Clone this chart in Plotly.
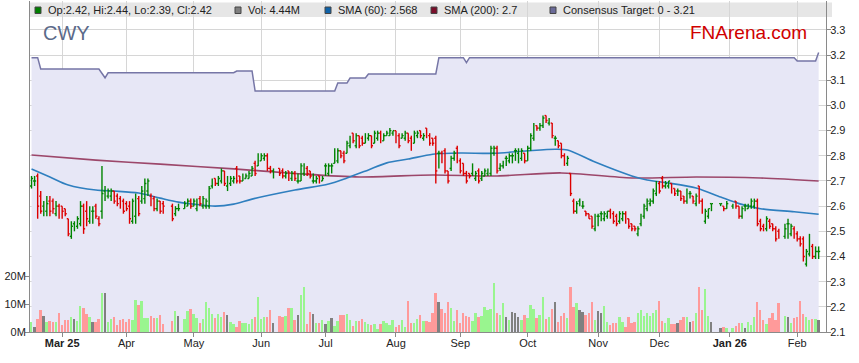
import pandas as pd
import plotly.graph_objects as go

# ---------------- data ----------------
HOLIDAYS = ["2025-04-18", "2025-04-21", "2025-04-25", "2025-06-09",
            "2025-12-25", "2025-12-26", "2026-01-01", "2026-01-26"]
trade_days = [d for d in pd.bdate_range("2025-02-17", "2026-02-11")
              if d.strftime("%Y-%m-%d") not in HOLIDAYS]

opens = [
    2.68, 2.70, 2.72, 2.64, 2.60, 2.58, 2.62, 2.62, 2.57, 2.60,
    2.60, 2.59, 2.55, 2.48, 2.53, 2.52, 2.53, 2.60, 2.58, 2.54, 2.58, 2.60, 2.55, 2.58, 2.66, 2.64, 2.64, 2.66, 2.64, 2.63, 2.62,
    2.61, 2.60, 2.54, 2.56, 2.63, 2.62, 2.63, 2.66, 2.64, 2.63, 2.59, 2.62, 2.61, 2.60, 2.57, 2.59, 2.59, 2.60, 2.62,
    2.60, 2.59, 2.63, 2.60, 2.60, 2.60, 2.68, 2.71, 2.69, 2.70, 2.74, 2.68, 2.69, 2.70, 2.75, 2.72, 2.70, 2.71, 2.71, 2.72, 2.77, 2.76,
    2.78, 2.79, 2.80, 2.75, 2.74, 2.75, 2.74, 2.72, 2.74, 2.71, 2.73, 2.70, 2.70, 2.73, 2.75, 2.74, 2.70, 2.70, 2.72, 2.70,
    2.76, 2.73, 2.76, 2.77, 2.78, 2.82, 2.81, 2.81, 2.84, 2.89, 2.84, 2.88, 2.87, 2.85, 2.87, 2.88, 2.85, 2.87, 2.89, 2.86, 2.88, 2.88, 2.89,
    2.90, 2.88, 2.87, 2.87, 2.89, 2.87, 2.85, 2.88, 2.90, 2.87, 2.91, 2.88, 2.87, 2.87, 2.81, 2.81, 2.82, 2.74, 2.75, 2.79, 2.83,
    2.78, 2.77, 2.73, 2.73, 2.73, 2.71, 2.74, 2.71, 2.72, 2.73, 2.73, 2.81, 2.83, 2.75, 2.76, 2.79, 2.78, 2.80, 2.82, 2.81, 2.79, 2.81,
    2.78, 2.83, 2.87, 2.92, 2.91, 2.92, 2.96, 2.93, 2.93, 2.87, 2.86, 2.85, 2.80, 2.77, 2.73, 2.62, 2.58, 2.62, 2.60, 2.58, 2.57, 2.56, 2.51,
    2.56, 2.57, 2.55, 2.56, 2.58, 2.57, 2.56, 2.54, 2.55, 2.57, 2.55, 2.53, 2.52, 2.49, 2.53, 2.56, 2.59, 2.61, 2.62, 2.65,
    2.69, 2.71, 2.68, 2.68, 2.69, 2.67, 2.66, 2.66, 2.64, 2.62, 2.65, 2.64, 2.61, 2.68, 2.62, 2.54, 2.56, 2.61, 2.61, 2.60, 2.59,
    2.60, 2.62, 2.60, 2.56, 2.60, 2.59, 2.60, 2.60, 2.62, 2.54, 2.52, 2.51, 2.54, 2.53, 2.51, 2.50, 2.48, 2.53, 2.49, 2.51,
    2.49, 2.47, 2.47, 2.37, 2.41, 2.44, 2.40, 2.42,
]
highs = [
    2.72, 2.72, 2.73, 2.66, 2.62, 2.64, 2.64, 2.63, 2.62, 2.61,
    2.60, 2.59, 2.55, 2.54, 2.54, 2.56, 2.62, 2.61, 2.62, 2.60, 2.60, 2.61, 2.56, 2.76, 2.68, 2.67, 2.67, 2.66, 2.65, 2.64, 2.63,
    2.62, 2.62, 2.63, 2.65, 2.64, 2.68, 2.71, 2.71, 2.65, 2.64, 2.63, 2.62, 2.62, 2.61, 2.60, 2.61, 2.62, 2.63, 2.63,
    2.63, 2.63, 2.64, 2.64, 2.63, 2.68, 2.71, 2.71, 2.72, 2.75, 2.74, 2.72, 2.72, 2.72, 2.76, 2.72, 2.73, 2.73, 2.74, 2.76, 2.78, 2.81,
    2.81, 2.81, 2.81, 2.76, 2.75, 2.75, 2.75, 2.74, 2.74, 2.74, 2.74, 2.73, 2.77, 2.77, 2.76, 2.74, 2.73, 2.72, 2.72, 2.72,
    2.77, 2.77, 2.77, 2.83, 2.83, 2.82, 2.82, 2.86, 2.88, 2.89, 2.89, 2.88, 2.88, 2.89, 2.89, 2.88, 2.90, 2.90, 2.90, 2.89, 2.90, 2.91, 2.90,
    2.90, 2.89, 2.89, 2.90, 2.89, 2.88, 2.90, 2.90, 2.90, 2.89, 2.91, 2.89, 2.87, 2.88, 2.82, 2.82, 2.83, 2.74, 2.80, 2.82, 2.84,
    2.79, 2.77, 2.74, 2.73, 2.77, 2.74, 2.75, 2.74, 2.75, 2.75, 2.84, 2.84, 2.84, 2.77, 2.78, 2.80, 2.81, 2.81, 2.83, 2.83, 2.83, 2.81,
    2.84, 2.89, 2.93, 2.92, 2.93, 2.96, 2.96, 2.95, 2.93, 2.88, 2.86, 2.85, 2.81, 2.80, 2.73, 2.63, 2.62, 2.63, 2.62, 2.58, 2.57, 2.56, 2.57,
    2.57, 2.58, 2.58, 2.58, 2.59, 2.58, 2.57, 2.58, 2.58, 2.58, 2.55, 2.53, 2.52, 2.52, 2.57, 2.61, 2.63, 2.63, 2.67, 2.70,
    2.70, 2.72, 2.70, 2.70, 2.69, 2.67, 2.67, 2.66, 2.64, 2.67, 2.66, 2.64, 2.65, 2.68, 2.63, 2.59, 2.59, 2.61, 2.61, 2.60, 2.62,
    2.61, 2.62, 2.60, 2.60, 2.61, 2.61, 2.63, 2.63, 2.63, 2.55, 2.53, 2.56, 2.55, 2.53, 2.52, 2.51, 2.53, 2.55, 2.53, 2.52,
    2.50, 2.48, 2.48, 2.43, 2.49, 2.45, 2.44, 2.44,
]
lows = [
    2.67, 2.68, 2.55, 2.57, 2.56, 2.56, 2.56, 2.57, 2.56, 2.55,
    2.55, 2.56, 2.48, 2.47, 2.50, 2.51, 2.52, 2.49, 2.52, 2.53, 2.53, 2.55, 2.52, 2.55, 2.62, 2.63, 2.62, 2.61, 2.60, 2.59, 2.57,
    2.58, 2.53, 2.53, 2.53, 2.56, 2.61, 2.61, 2.64, 2.60, 2.58, 2.58, 2.57, 2.57, 2.54, 2.56, 2.58, 2.59, 2.60, 2.59,
    2.60, 2.58, 2.60, 2.59, 2.59, 2.59, 2.67, 2.68, 2.68, 2.69, 2.68, 2.66, 2.68, 2.69, 2.69, 2.69, 2.70, 2.71, 2.71, 2.72, 2.72, 2.76,
    2.78, 2.78, 2.74, 2.73, 2.71, 2.72, 2.71, 2.71, 2.70, 2.70, 2.70, 2.69, 2.70, 2.72, 2.72, 2.71, 2.69, 2.69, 2.69, 2.70,
    2.72, 2.72, 2.73, 2.77, 2.77, 2.79, 2.77, 2.81, 2.83, 2.85, 2.83, 2.83, 2.84, 2.85, 2.86, 2.83, 2.85, 2.86, 2.85, 2.86, 2.88, 2.88, 2.88,
    2.85, 2.83, 2.87, 2.86, 2.85, 2.82, 2.85, 2.87, 2.87, 2.86, 2.87, 2.84, 2.84, 2.69, 2.75, 2.77, 2.73, 2.69, 2.74, 2.78, 2.77,
    2.73, 2.72, 2.69, 2.71, 2.72, 2.70, 2.69, 2.70, 2.72, 2.72, 2.72, 2.80, 2.73, 2.74, 2.75, 2.76, 2.77, 2.77, 2.78, 2.77, 2.78, 2.77,
    2.78, 2.82, 2.86, 2.90, 2.90, 2.91, 2.93, 2.92, 2.87, 2.84, 2.83, 2.79, 2.76, 2.76, 2.64, 2.57, 2.57, 2.60, 2.59, 2.56, 2.55, 2.51, 2.50,
    2.52, 2.54, 2.54, 2.55, 2.55, 2.53, 2.52, 2.53, 2.54, 2.53, 2.51, 2.50, 2.50, 2.48, 2.52, 2.55, 2.58, 2.60, 2.61, 2.64,
    2.65, 2.67, 2.67, 2.67, 2.65, 2.64, 2.64, 2.62, 2.61, 2.61, 2.63, 2.61, 2.60, 2.61, 2.57, 2.53, 2.55, 2.58, 2.60, 2.58, 2.59,
    2.59, 2.59, 2.55, 2.55, 2.58, 2.59, 2.59, 2.59, 2.52, 2.50, 2.50, 2.50, 2.51, 2.50, 2.46, 2.47, 2.47, 2.47, 2.48, 2.47,
    2.46, 2.44, 2.38, 2.36, 2.40, 2.39, 2.39, 2.39,
]
closes = [
    2.71, 2.70, 2.60, 2.58, 2.60, 2.61, 2.58, 2.59, 2.60, 2.56,
    2.58, 2.57, 2.49, 2.52, 2.53, 2.55, 2.60, 2.51, 2.55, 2.59, 2.58, 2.56, 2.53, 2.65, 2.66, 2.66, 2.66, 2.62, 2.61, 2.60, 2.58,
    2.59, 2.55, 2.62, 2.63, 2.57, 2.66, 2.69, 2.70, 2.61, 2.59, 2.62, 2.58, 2.60, 2.55, 2.59, 2.59, 2.61, 2.62, 2.60,
    2.62, 2.62, 2.61, 2.63, 2.62, 2.67, 2.70, 2.69, 2.71, 2.74, 2.69, 2.68, 2.71, 2.71, 2.70, 2.70, 2.72, 2.72, 2.73, 2.75, 2.73, 2.80,
    2.80, 2.80, 2.75, 2.74, 2.74, 2.73, 2.72, 2.73, 2.71, 2.73, 2.71, 2.70, 2.76, 2.75, 2.73, 2.72, 2.70, 2.71, 2.70, 2.71,
    2.76, 2.76, 2.76, 2.82, 2.82, 2.80, 2.78, 2.85, 2.87, 2.86, 2.88, 2.84, 2.85, 2.88, 2.88, 2.84, 2.89, 2.89, 2.86, 2.88, 2.89, 2.90, 2.90,
    2.86, 2.84, 2.88, 2.89, 2.86, 2.83, 2.89, 2.89, 2.88, 2.88, 2.88, 2.85, 2.85, 2.74, 2.81, 2.78, 2.74, 2.70, 2.79, 2.81, 2.78,
    2.74, 2.73, 2.70, 2.72, 2.76, 2.73, 2.70, 2.73, 2.74, 2.74, 2.83, 2.83, 2.74, 2.76, 2.77, 2.79, 2.80, 2.80, 2.82, 2.81, 2.82, 2.78,
    2.83, 2.88, 2.92, 2.91, 2.92, 2.95, 2.94, 2.94, 2.88, 2.87, 2.84, 2.80, 2.77, 2.79, 2.65, 2.58, 2.61, 2.62, 2.60, 2.57, 2.55, 2.52, 2.55,
    2.56, 2.57, 2.57, 2.58, 2.56, 2.54, 2.53, 2.57, 2.57, 2.54, 2.52, 2.51, 2.51, 2.51, 2.56, 2.60, 2.62, 2.62, 2.66, 2.69,
    2.66, 2.68, 2.69, 2.70, 2.66, 2.65, 2.66, 2.63, 2.62, 2.66, 2.65, 2.62, 2.64, 2.62, 2.58, 2.58, 2.59, 2.61, 2.61, 2.59, 2.61,
    2.61, 2.60, 2.56, 2.59, 2.60, 2.60, 2.62, 2.62, 2.53, 2.51, 2.51, 2.55, 2.52, 2.51, 2.47, 2.48, 2.51, 2.53, 2.52, 2.48,
    2.47, 2.45, 2.40, 2.42, 2.45, 2.40, 2.42, 2.42,
]
volumes_m = [
    3.7, 1.9, 4.6, 7.9, 5.8, 3.6, 4.0, 3.7, 3.7, 6.9,
    2.5, 4.3, 4.3, 5.5, 4.6, 4.0, 9.3, 8.7, 6.4, 5.5, 3.7, 3.5, 4.6, 14.0, 13.8, 3.7, 4.5, 5.5, 2.5, 4.3, 4.6,
    3.7, 4.6, 4.3, 11.4, 9.6, 11.1, 5.0, 4.9, 5.8, 5.0, 5.0, 6.1, 2.7, 3.9, 7.4, 5.8, 4.6, 7.6, 8.3,
    6.6, 5.1, 3.3, 4.7, 10.8, 8.4, 6.6, 5.1, 6.6, 5.5, 7.3, 6.2, 3.6, 2.9, 1.9, 3.9, 3.1, 3.3, 2.7, 4.5, 5.3, 12.5,
    4.7, 5.2, 5.5, 8.0, 3.2, 5.8, 5.3, 5.7, 8.7, 8.7, 4.3, 6.1, 13.3, 16.0, 3.0, 7.3, 6.5, 3.3, 3.3, 4.4,
    3.0, 4.1, 5.1, 2.3, 4.0, 6.1, 5.9, 6.5, 4.2, 2.3, 4.1, 4.1, 4.7, 3.7, 2.9, 2.6, 2.9, 1.2, 2.7, 4.1, 3.3, 2.6, 4.4,
    1.8, 2.6, 4.4, 1.8, 11.2, 3.1, 3.3, 4.7, 6.2, 3.8, 4.1, 3.7, 6.9, 14.0, 10.8, 8.2, 6.7, 10.8, 8.7, 4.0, 7.9,
    3.3, 6.7, 5.7, 5.5, 3.9, 6.9, 5.5, 5.8, 9.0, 7.9, 8.2, 17.6, 6.9, 6.1, 10.5, 5.2, 4.3, 7.3, 6.7, 5.2, 4.3, 6.1,
    5.1, 9.6, 8.2, 5.1, 6.2, 12.6, 4.8, 5.5, 8.3, 10.8, 3.7, 5.8, 6.9, 5.1, 16.2, 9.0, 10.2, 7.9, 7.3, 6.0, 6.9, 10.8, 4.3,
    7.6, 6.7, 9.3, 3.6, 2.5, 3.2, 3.3, 5.5, 3.6, 1.9, 5.5, 3.3, 3.7, 6.9, 7.9, 5.7, 6.9, 5.7, 6.7, 7.9,
    11.2, 4.0, 3.1, 4.9, 2.9, 2.9, 3.1, 4.3, 5.5, 5.5, 3.7, 3.9, 6.7, 16.2, 7.9, 15.4, 5.8, 3.7, 1.3, 1.9, 1.3,
    1.5, 2.1, 3.3, 3.1, 1.5, 3.7, 2.5, 5.5, 10.8, 7.9, 4.3, 3.0, 5.0, 6.7, 4.3, 10.5, 5.7, 5.5, 3.1, 5.1,
    5.2, 11.2, 6.4, 5.5, 4.3, 4.5, 4.5, 4.44,
]

sma60_dates = ["2025-02-17", "2025-02-25", "2025-03-05", "2025-03-18", "2025-03-26", "2025-04-07",
               "2025-04-16", "2025-04-24", "2025-05-01", "2025-05-12", "2025-05-20", "2025-05-28",
               "2025-06-17", "2025-07-02", "2025-07-10", "2025-07-21", "2025-07-29", "2025-08-07",
               "2025-08-19", "2025-09-01", "2025-09-16", "2025-10-01", "2025-10-14", "2025-10-20",
               "2025-10-31", "2025-11-18", "2025-11-25", "2025-12-04", "2025-12-17", "2025-12-29",
               "2026-01-06", "2026-01-15", "2026-01-30", "2026-02-11"]
sma60_vals = [2.748, 2.716, 2.684, 2.664, 2.660, 2.652, 2.632, 2.616, 2.608, 2.600, 2.608, 2.628,
              2.664, 2.688, 2.712, 2.744, 2.772, 2.787, 2.806, 2.811, 2.810, 2.820, 2.826, 2.823,
              2.775, 2.720, 2.704, 2.692, 2.672, 2.636, 2.610, 2.590, 2.578, 2.568]

sma200_dates = ["2025-02-17", "2025-03-18", "2025-04-16", "2025-05-20", "2025-06-17", "2025-07-16",
                "2025-08-19", "2025-09-17", "2025-10-16", "2025-11-18", "2025-12-17", "2026-01-15",
                "2026-02-11"]
sma200_vals = [2.803, 2.783, 2.767, 2.748, 2.730, 2.716, 2.724, 2.720, 2.732, 2.712, 2.716, 2.712, 2.700]

target_dates = ["2025-02-17", "2025-02-19", "2025-02-20", "2025-03-19", "2025-03-21", "2025-03-24",
                "2025-05-20", "2025-05-21", "2025-05-28", "2025-05-29", "2025-07-04", "2025-07-07",
                "2025-07-10", "2025-07-11", "2025-07-18", "2025-07-21", "2025-08-20", "2025-08-21",
                "2025-09-02", "2025-09-03", "2025-09-04", "2026-01-30", "2026-02-02", "2026-02-10",
                "2026-02-11"]
target_vals = [3.19, 3.19, 3.145, 3.145, 3.11, 3.13, 3.13, 3.137, 3.137, 3.057, 3.057, 3.089,
               3.089, 3.109, 3.109, 3.125, 3.125, 3.19, 3.19, 3.17, 3.19, 3.19, 3.177, 3.177, 3.21]

month_ticks = ["2025-03-03", "2025-04-01", "2025-05-01", "2025-06-02", "2025-07-01", "2025-08-01",
               "2025-09-01", "2025-10-01", "2025-11-03", "2025-12-01", "2026-01-01", "2026-02-02"]
month_labels = ["<b>Mar 25</b>", "Apr", "May", "Jun", "Jul", "Aug", "Sep", "Oct", "Nov", "Dec",
                "<b>Jan 26</b>", "Feb"]
price_ticks = [2.1, 2.2, 2.3, 2.4, 2.5, 2.6, 2.7, 2.8, 2.9, 3.0, 3.1, 3.2, 3.3]
vol_ticks = [0, 10, 20]
vol_tick_labels = ["0M", "10M", "20M"]

# ---------------- helpers ----------------
noon = pd.Timedelta(hours=12)
half_day = pd.Timedelta(hours=12)


def at_noon(ds):
    return [pd.Timestamp(d) + noon for d in ds]


x_days = [d + noon for d in trade_days]
assert len(x_days) == len(opens) == len(highs) == len(lows) == len(closes) == len(volumes_m)

W, H = 859, 363
L, R, T, B = 30, 826, 1, 332
PX_PER_PRICE = 251.7          # pixels per 1.0 of price
PX_PER_MVOL = 2.8             # pixels per 1M shares


def fx(x):
    return (x - L) / (R - L)


def fy(y):
    return (B - y) / (B - T)


def bar_path(indices):
    xs, ys = [], []
    for i in indices:
        d = x_days[i]
        xs += [d, d, None, d - half_day, d, None, d, d + half_day, None]
        ys += [lows[i], highs[i], None, opens[i], opens[i], None, closes[i], closes[i], None]
    return xs, ys


up_idx = [i for i in range(len(closes)) if round(closes[i] - opens[i], 4) >= 0]
dn_idx = [i for i in range(len(closes)) if round(closes[i] - opens[i], 4) < 0]

vol_colors = []
for o, c in zip(opens, closes):
    diff = round(c - o, 4)
    vol_colors.append("#99f58f" if diff > 0 else ("#ff9a9a" if diff < 0 else "#808080"))

fig = go.Figure()

fig.add_trace(go.Scatter(
    x=at_noon(target_dates), y=target_vals, mode="lines",
    line=dict(color="#7676a6", width=1.5),
    fill="tozeroy", fillcolor="#e7e7f6", hoverinfo="skip"))

fig.add_trace(go.Scatter(
    x=at_noon(sma200_dates), y=sma200_vals, mode="lines",
    line=dict(color="#8a2048", width=1.6, shape="spline", smoothing=0.8), opacity=0.8))

fig.add_trace(go.Scatter(
    x=at_noon(sma60_dates), y=sma60_vals, mode="lines",
    line=dict(color="#2f7fbf", width=1.6, shape="spline", smoothing=0.8)))

ux, uy = bar_path(up_idx)
fig.add_trace(go.Scatter(x=ux, y=uy, mode="lines", line=dict(color="#008400", width=1.4)))
dx, dy = bar_path(dn_idx)
fig.add_trace(go.Scatter(x=dx, y=dy, mode="lines", line=dict(color="#dd0000", width=1.4)))

fig.add_trace(go.Bar(
    x=x_days, y=volumes_m, yaxis="y2", marker=dict(color=vol_colors, line=dict(width=0)),
    width=0.62 * 86400000))

fig.update_layout(
    width=W, height=H,
    margin=dict(l=L, r=W - R, t=T, b=H - B),
    paper_bgcolor="white", plot_bgcolor="white",
    showlegend=False, bargap=0,
    font=dict(family="Liberation Sans, Arial, sans-serif", size=11, color="#222"),
    xaxis=dict(
        type="date", automargin=False,
        range=["2025-02-17 00:00", "2026-02-13 21:36"],
        rangebreaks=[dict(bounds=["sat", "mon"])],
        rangeslider=dict(visible=False),
        tickvals=at_noon(month_ticks), ticktext=month_labels,
        showgrid=True, gridcolor="#d6d6d6", gridwidth=1,
        showline=True, linecolor="#8a8a8a", linewidth=1,
        ticks="outside", ticklen=4, tickcolor="#8a8a8a", ticklabelstandoff=-3,
        tickfont=dict(size=11, color="#222"), zeroline=False),
    yaxis=dict(
        side="right", automargin=False,
        range=[2.1, 2.1 + (B - T) / PX_PER_PRICE],
        tickvals=price_ticks, ticktext=[f"{v:.1f}" for v in price_ticks],
        showgrid=True, gridcolor="#d6d6d6", gridwidth=1,
        showline=True, linecolor="#8a8a8a", linewidth=1,
        ticks="outside", ticklen=4, tickcolor="#8a8a8a", ticklabelstandoff=-3,
        tickfont=dict(size=11, color="#222"), zeroline=False),
    yaxis2=dict(
        overlaying="y", side="left", automargin=False,
        range=[0, (B - T) / PX_PER_MVOL],
        tickvals=vol_ticks, ticktext=vol_tick_labels,
        showgrid=False, zeroline=False,
        showline=True, linecolor="#8a8a8a", linewidth=1,
        ticks="outside", ticklen=4, tickcolor="#8a8a8a", ticklabelstandoff=-3,
        tickfont=dict(size=11, color="#222")),
)

# legend bar
shapes = [dict(type="rect", xref="paper", yref="paper", x0=0, x1=fx(832), y0=fy(17), y1=fy(2.5),
               fillcolor="#e6e6e6", line=dict(width=0), layer="below")]
legend_items = [
    (35, "#008000", f"Op:{opens[-1]:.2f}, Hi:{highs[-1]:.2f}, Lo:{lows[-1]:.2f}, Cl:{closes[-1]:.2f}"),
    (235, "#7f7f7f", f"Vol: {volumes_m[-1]:.2f}M"),
    (325, "#0f62a8", f"SMA (60): {sma60_vals[-1]:.3f}"),
    (431, "#7a0e2a", f"SMA (200): {sma200_vals[-1]:g}"),
    (550, "#6a6a98", f"Consensus Target: 0 - {target_vals[-1]:.2f}"),
]
annotations = []
for xpix, col, txt in legend_items:
    shapes.append(dict(type="rect", xref="paper", yref="paper",
                       x0=fx(xpix), x1=fx(xpix + 6), y0=fy(13.5), y1=fy(7),
                       fillcolor=col, line=dict(color="#444", width=1)))
    annotations.append(dict(xref="paper", yref="paper", x=fx(xpix + 11), y=fy(10.3),
                            xanchor="left", yanchor="middle", showarrow=False, text=txt,
                            font=dict(size=11, color="#222", family="Liberation Sans, Arial")))
annotations.append(dict(xref="paper", yref="paper", x=fx(41), y=fy(33), xanchor="left",
                        yanchor="middle", showarrow=False, text="CWY",
                        font=dict(size=20, color="#5b6a8a", family="Liberation Sans, Arial")))
annotations.append(dict(xref="paper", yref="paper", x=fx(809), y=fy(33), xanchor="right",
                        yanchor="middle", showarrow=False, text="FNArena.com",
                        font=dict(size=19, color="#d00000", family="Liberation Sans, Arial")))
fig.update_layout(shapes=shapes, annotations=annotations)

fig.write_html("out.html", config={"displayModeBar": False},
               post_script="document.body.style.margin='0';document.body.style.padding='0';")
